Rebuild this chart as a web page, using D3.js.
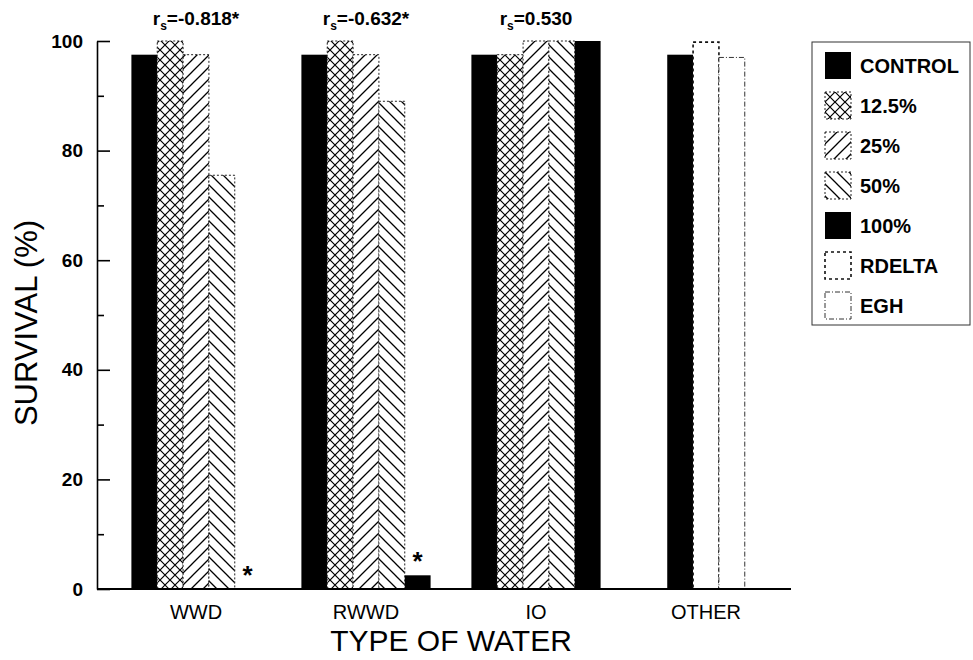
<!DOCTYPE html>
<html>
<head>
<meta charset="utf-8">
<script src="https://cdn.jsdelivr.net/npm/d3@7"></script>
<style>
  body { margin: 0; background: #fff; }
  svg { display: block; font-family: "Liberation Sans", Arial, sans-serif; }
</style>
</head>
<body>
<svg id="chart" width="973" height="660"></svg>
<script>
// data
const categories = ["WWD", "RWWD", "IO", "OTHER"];
const seriesNames = ["CONTROL", "12.5%", "25%", "50%", "100%", "RDELTA", "EGH"];
const dilutionSeries = ["CONTROL", "12.5%", "25%", "50%", "100%"];
const otherSeries = ["CONTROL", "RDELTA", "EGH"];
const wwdValues = [97.5, 100, 97.5, 75.5, 0];
const rwwdValues = [97.5, 100, 97.5, 89, 2.5];
const ioValues = [97.5, 97.5, 100, 100, 100];
const otherValues = [97.5, 99.8, 97];
const rsLabels = ["-0.818*", "-0.632*", "0.530", ""];
const starred = [["WWD", "100%"], ["RWWD", "100%"]];
const yTicks = [0, 20, 40, 60, 80, 100];
const yMinorTicks = [10, 30, 50, 70, 90];

const groups = [
  { cat: "WWD", series: dilutionSeries, values: wwdValues },
  { cat: "RWWD", series: dilutionSeries, values: rwwdValues },
  { cat: "IO", series: dilutionSeries, values: ioValues },
  { cat: "OTHER", series: otherSeries, values: otherValues }
];

const svg = d3.select("#chart");

// patterns
const defs = svg.append("defs");
function addPattern(id, size, d, sw) {
  const p = defs.append("pattern")
    .attr("id", id)
    .attr("patternUnits", "userSpaceOnUse")
    .attr("width", size)
    .attr("height", size);
  p.append("rect").attr("width", size).attr("height", size).attr("fill", "#fff");
  p.append("path").attr("d", d).attr("stroke", "#000").attr("stroke-width", sw).attr("fill", "none");
}
addPattern("cross", 10, "M0,0L10,10M10,0L0,10", 1.2);
addPattern("fwd", 12, "M0,12L12,0M-2,2L2,-2M10,14L14,10", 1.3);
addPattern("back", 12, "M0,0L12,12M-2,10L2,14M10,-2L14,2", 1.3);

const styles = {
  "CONTROL": { fill: "#000", stroke: "none", dash: null, sw: 0 },
  "12.5%": { fill: "url(#cross)", stroke: "#222", dash: "2,2", sw: 1 },
  "25%": { fill: "url(#fwd)", stroke: "#222", dash: "2,2", sw: 1 },
  "50%": { fill: "url(#back)", stroke: "#222", dash: "2,2", sw: 1 },
  "100%": { fill: "#000", stroke: "none", dash: null, sw: 0 },
  "RDELTA": { fill: "#fff", stroke: "#111", dash: "3,3", sw: 1.6 },
  "EGH": { fill: "#fff", stroke: "#333", dash: "5,2,1,2", sw: 1 }
};

const x = d3.scaleBand()
  .domain(categories)
  .range([111, 791]);

const y = d3.scaleLinear()
  .domain([0, 100])
  .range([589, 41]);

const barWidth = x.bandwidth() * 0.152;
function barX(g, i) {
  return x(g.cat) + (x.bandwidth() - g.series.length * barWidth) / 2 + i * barWidth;
}

// bars
const bars = [];
groups.forEach(g => g.series.forEach((s, i) => bars.push({ g: g, s: s, i: i, v: g.values[i] })));

svg.append("g").selectAll("rect")
  .data(bars.filter(d => d.v > 0))
  .enter()
  .append("rect")
  .attr("x", d => barX(d.g, d.i))
  .attr("y", d => y(d.v))
  .attr("width", barWidth)
  .attr("height", d => y(0) - y(d.v))
  .attr("fill", d => styles[d.s].fill)
  .attr("stroke", d => styles[d.s].stroke)
  .attr("stroke-width", d => styles[d.s].sw)
  .attr("stroke-dasharray", d => styles[d.s].dash);

// significance stars
svg.append("g").selectAll("text")
  .data(starred)
  .enter()
  .append("text")
  .attr("x", d => {
    const g = groups.find(k => k.cat === d[0]);
    return barX(g, g.series.indexOf(d[1])) + barWidth / 2;
  })
  .attr("y", d => {
    const g = groups.find(k => k.cat === d[0]);
    return y(g.values[g.series.indexOf(d[1])]) - 5;
  })
  .attr("text-anchor", "middle")
  .style("font-size", "26px")
  .style("font-weight", "bold")
  .text("*");

// r_s annotations
const rs = svg.append("g").selectAll("text")
  .data(categories.map((c, i) => ({ c: c, t: rsLabels[i] })).filter(d => d.t !== ""))
  .enter()
  .append("text")
  .attr("x", d => x(d.c) + x.bandwidth() / 2)
  .attr("y", 25)
  .attr("text-anchor", "middle")
  .style("font-size", "19px")
  .style("font-weight", "bold");
rs.append("tspan").text("r");
rs.append("tspan").attr("dy", 5).style("font-size", "12px").text("s");
rs.append("tspan").attr("dy", -5).text(d => "=" + d.t);

// y axis
svg.append("g")
  .attr("transform", "translate(97,0)")
  .call(d3.axisLeft(y).tickValues(yTicks).tickSizeInner(-13).tickSizeOuter(0).tickPadding(14))
  .call(g => g.selectAll("path, line").attr("stroke", "#000").attr("stroke-width", 1.6))
  .call(g => g.selectAll("text").style("font-size", "19px").style("font-weight", "bold").attr("fill", "#000"));

svg.append("g")
  .attr("transform", "translate(97,0)")
  .call(d3.axisLeft(y).tickValues(yMinorTicks).tickSizeInner(-7).tickSizeOuter(0).tickFormat(""))
  .call(g => g.select(".domain").remove())
  .call(g => g.selectAll("line").attr("stroke", "#000").attr("stroke-width", 1.6));

// x axis
svg.append("g")
  .attr("transform", "translate(0," + y(0) + ")")
  .call(d3.axisBottom(x).tickSize(0).tickPadding(16))
  .call(g => g.select(".domain").remove())
  .call(g => g.selectAll("text").style("font-size", "20px").attr("fill", "#000"));

svg.append("line")
  .attr("x1", 97)
  .attr("x2", x.range()[1])
  .attr("y1", y(0))
  .attr("y2", y(0))
  .attr("stroke", "#000")
  .attr("stroke-width", 1.8);

// axis titles
svg.append("text")
  .attr("transform", "translate(37,323) rotate(-90)")
  .attr("text-anchor", "middle")
  .style("font-size", "31px")
  .text("SURVIVAL (%)");

svg.append("text")
  .attr("x", 451)
  .attr("y", 651)
  .attr("text-anchor", "middle")
  .style("font-size", "30px")
  .text("TYPE OF WATER");

// legend
const legend = svg.append("g").attr("transform", "translate(812,42)");
legend.append("rect")
  .attr("width", 158)
  .attr("height", 283)
  .attr("fill", "none")
  .attr("stroke", "#333")
  .attr("stroke-width", 1);

const items = legend.selectAll("g.item")
  .data(seriesNames)
  .enter()
  .append("g")
  .attr("class", "item")
  .attr("transform", (d, i) => "translate(13," + (10 + i * 40) + ")");

items.append("rect")
  .attr("width", 26)
  .attr("height", 27)
  .attr("fill", d => styles[d].fill)
  .attr("stroke", d => styles[d].stroke)
  .attr("stroke-width", d => styles[d].sw)
  .attr("stroke-dasharray", d => styles[d].dash);

items.append("text")
  .attr("x", 35)
  .attr("y", 21)
  .style("font-size", "20px")
  .style("font-weight", "bold")
  .text(d => d);
</script>
</body>
</html>
